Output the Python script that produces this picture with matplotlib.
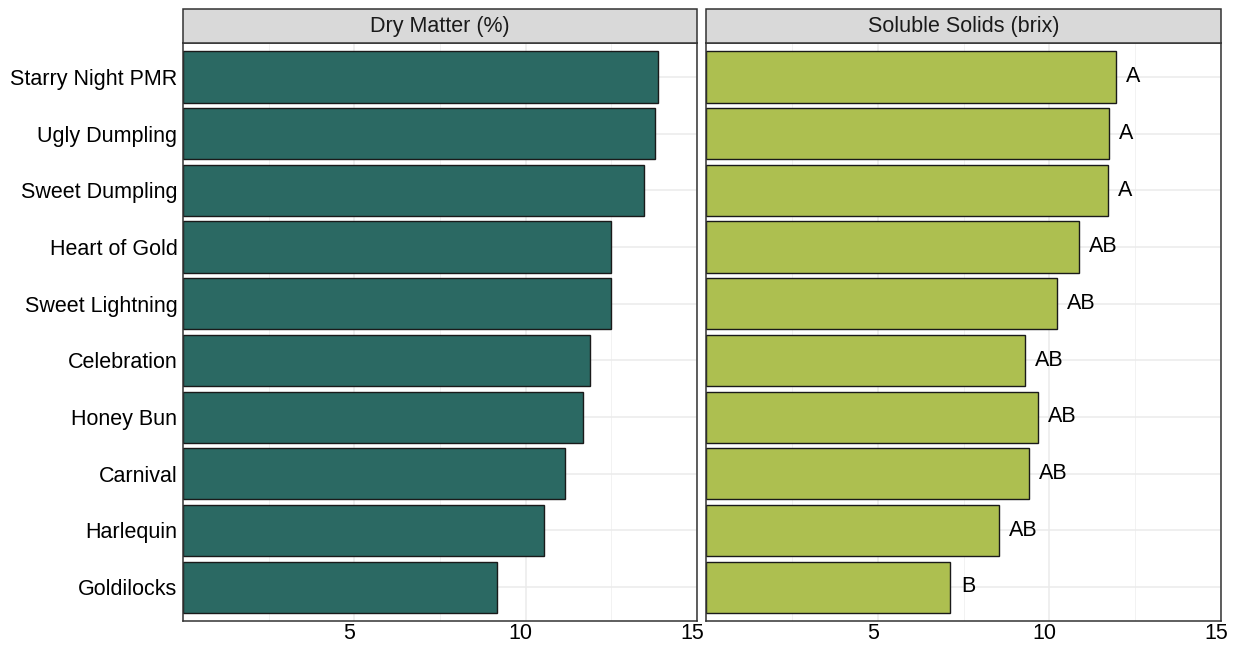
import matplotlib
matplotlib.use("Agg")
import matplotlib.pyplot as plt
import matplotlib.transforms as mtransforms
from matplotlib.patches import Rectangle

plt.rcParams['font.family'] = ['Liberation Sans', 'DejaVu Sans']

varieties = ["Goldilocks", "Harlequin", "Carnival", "Honey Bun", "Celebration",
             "Sweet Lightning", "Heart of Gold", "Sweet Dumpling", "Ugly Dumpling",
             "Starry Night PMR"]
dry_matter = [9.15, 10.54, 11.16, 11.68, 11.88, 12.50, 12.50, 13.46, 13.78, 13.87]
brix = [7.12, 8.52, 9.40, 9.66, 9.28, 10.21, 10.85, 11.70, 11.73, 11.93]
brix_letters = ["B", "AB", "AB", "AB", "AB", "AB", "AB", "A", "A", "A"]
panel_titles = ["Dry Matter (%)", "Soluble Solids (brix)"]
x_ticks = [5, 10, 15]

FS = 15.5

fig = plt.figure(figsize=(12.38, 6.45), dpi=100)
ax1 = fig.add_axes([183/1238, 1 - 621/645, 514/1238, 578/645])
ax2 = fig.add_axes([706/1238, 1 - 621/645, 515/1238, 578/645], sharey=ax1)

border = "#333333"
ypos = list(range(len(varieties)))

def style_panel(ax, title):
    ax.set_xlim(0, 15)
    ax.set_ylim(-0.6, len(varieties) - 0.4)
    ax.set_xticks(x_ticks)
    ax.set_xticks([2.5, 7.5, 12.5], minor=True)
    ax.set_yticks(ypos)
    ax.grid(True, which="major", color="#EBEBEB", linewidth=1.1, zorder=0)
    ax.grid(True, which="minor", axis="x", color="#F2F2F2", linewidth=0.7, zorder=0)
    ax.set_axisbelow(True)
    ax.tick_params(axis="both", which="both", length=0, labelsize=FS, colors="black")
    ax.tick_params(axis="x", pad=1.5)
    ax.tick_params(axis="y", pad=4)
    for s in ax.spines.values():
        s.set_color(border)
        s.set_linewidth(1.1)
    offset = mtransforms.ScaledTranslation(-5/100, 0, fig.dpi_scale_trans)
    for lbl in ax.get_xticklabels():
        lbl.set_transform(lbl.get_transform() + offset)
    strip_h = 34/578
    ax.add_patch(Rectangle((0, 1), 1, strip_h, transform=ax.transAxes,
                           facecolor="#D9D9D9", edgecolor=border, linewidth=1.1,
                           clip_on=False, zorder=3))
    ax.text(0.5, 1 + strip_h / 2, title, transform=ax.transAxes, ha="center",
            va="center", fontsize=FS, color="#1A1A1A", zorder=4)

ax1.barh(ypos, dry_matter, height=0.9, color="#2B6963", edgecolor="#1A1A1A",
         linewidth=1, zorder=2)
ax2.barh(ypos, brix, height=0.9, color="#ADBF50", edgecolor="#1A1A1A",
         linewidth=1, zorder=2)

for y, v, t in zip(ypos, brix, brix_letters):
    ax2.text(v + 0.3, y, t, ha="left", va="center", fontsize=FS, color="black")

style_panel(ax1, panel_titles[0])
style_panel(ax2, panel_titles[1])
ax1.set_yticklabels(varieties)
plt.setp(ax2.get_yticklabels(), visible=False)

fig.savefig("out.png", dpi=100)
